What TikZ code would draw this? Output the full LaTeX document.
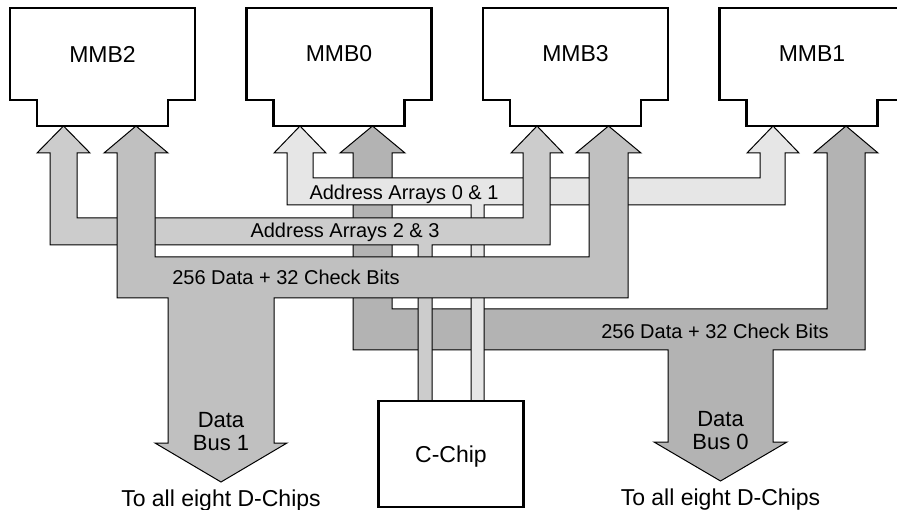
\documentclass[tikz,border=0pt]{standalone}
\usepackage{fontspec}
\setmainfont{Liberation Sans}
\usepackage{tikz}
\usetikzlibrary{positioning}

\definecolor{addrlight}{HTML}{E6E6E6}
\definecolor{addrmid}{HTML}{CCCCCC}
\definecolor{dataone}{HTML}{C0C0C0}
\definecolor{datazero}{HTML}{B3B3B3}

\tikzset{
    bus/.style={draw=black, line width=1pt},
    mmb/.style={minimum width=185pt, minimum height=92pt, inner sep=0pt, outer sep=0pt, font=\fontsize{23}{27}\selectfont},
    chip/.style={draw, line width=2.5pt, minimum width=145pt, minimum height=106pt, inner sep=0pt, text depth=0pt, font=\fontsize{23}{27}\selectfont},
    buslabel/.style={inner sep=0pt, font=\fontsize{20}{24}\selectfont},
    arrowlabel/.style={inner sep=0pt, align=center, font=\fontsize{22}{23}\selectfont},
    destlabel/.style={inner sep=0pt, font=\fontsize{23}{27}\selectfont}
}

\newcommand{\mmbframe}[1]{%
    \draw[line width=2.5pt] (#1.north west) -- (#1.north east) -- (#1.south east) -- ++(-27,0) -- ++(0,26)
        -- ([shift={(27,26)}]#1.south west) -- ++(0,-26) -- (#1.south west) -- cycle;}

\begin{document}
\begin{tikzpicture}[x=1pt, y=-1pt, node distance=51.5pt, line join=miter]
    \useasboundingbox (0,0) rectangle (897,510);

    % buses, back to front
    \draw[bus, fill=datazero] (372.5,126) -- (405,153) -- (392,153) -- (392,309) -- (827,309) -- (827,153) -- (814,153)
        -- (846,126) -- (878,153) -- (865,153) -- (865,350) -- (773,350) -- (773,442) -- (787,442) -- (720.5,481)
        -- (654,442) -- (668,442) -- (668,350) -- (353,350) -- (353,153) -- (340,153) -- cycle;
    \draw[bus, fill=addrlight] (300,126) -- (326,153) -- (313,153) -- (313,178) -- (760,178) -- (760,153) -- (747,153)
        -- (773,126) -- (799,153) -- (785,153) -- (785,205) -- (484,205) -- (484,401) -- (471,401) -- (471,205)
        -- (287,205) -- (287,153) -- (274,153) -- cycle;
    \draw[bus, fill=addrmid] (63.5,126) -- (90,153) -- (77,153) -- (77,218) -- (523,218) -- (523,153) -- (511,153)
        -- (537,126) -- (563,153) -- (550,153) -- (550,245) -- (432,245) -- (432,401) -- (418,401) -- (418,245)
        -- (50,245) -- (50,153) -- (37,153) -- cycle;
    \draw[bus, fill=dataone] (136,126) -- (168,153) -- (155,153) -- (155,257) -- (589,257) -- (589,153) -- (576,153)
        -- (608.5,126) -- (641,153) -- (628,153) -- (628,298) -- (274,298) -- (274,443) -- (287,443) -- (221,482)
        -- (155,443) -- (168,443) -- (168,298) -- (117,298) -- (117,153) -- (104,153) -- cycle;

    \node[mmb, anchor=north west] (mmb2) at (10,8) {MMB2};
    \node[mmb, right=of mmb2] (mmb0) {MMB0};
    \node[mmb, right=of mmb0] (mmb3) {MMB3};
    \node[mmb, right=of mmb3] (mmb1) {MMB1};
    \foreach \n in {mmb2,mmb0,mmb3,mmb1} \mmbframe{\n};

    \node[chip, fill=white] (cchip) at (451,454) {C-Chip};

    \node[buslabel, anchor=base] (addr01) at (404,199.5) {Address Arrays 0 \& 1};
    \node[buslabel, anchor=base] (addr23) at (345,237.5) {Address Arrays 2 \& 3};
    \node[buslabel, anchor=base] (bits1) at (286,284.5) {256 Data + 32 Check Bits};
    \node[buslabel, anchor=base] (bits0) at (715,338.5) {256 Data + 32 Check Bits};
    \node[arrowlabel] (bus1) at (221,431.5) {Data\\Bus 1};
    \node[arrowlabel] (bus0) at (720.5,431) {Data\\Bus 0};
    \node[destlabel, anchor=base] (dest1) at (221,506) {To all eight D-Chips};
    \node[destlabel, anchor=base] (dest0) at (720.5,505) {To all eight D-Chips};
\end{tikzpicture}
\end{document}
